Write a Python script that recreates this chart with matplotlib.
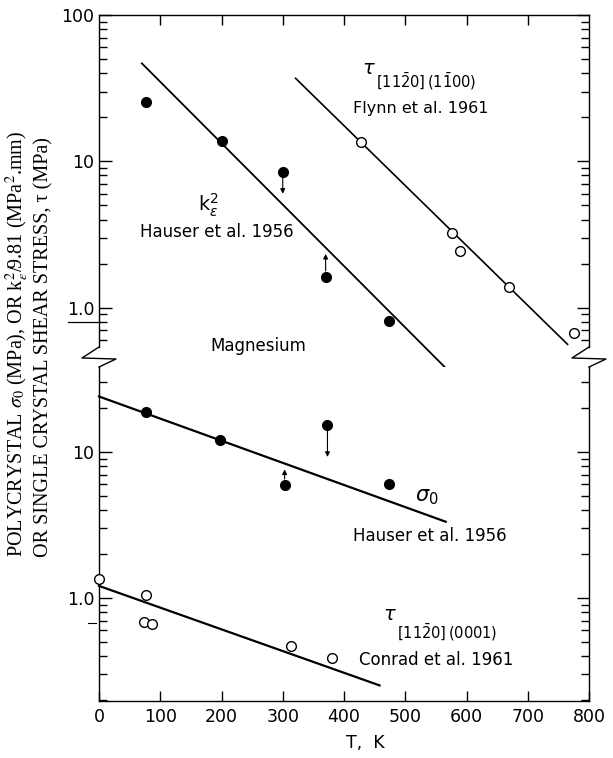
import matplotlib
matplotlib.use("Agg")
import matplotlib.pyplot as plt
from matplotlib.lines import Line2D
from matplotlib.ticker import FixedLocator, FixedFormatter, LogLocator, NullFormatter

# --- data (T in K, values in MPa) ---
k_T = [77, 200, 300, 370, 473]
k_val = [25.3, 13.8, 8.5, 1.63, 0.81]
k_arrow_idx = [2, 3]
k_arrow_to = [6.0, 2.33]
k_fit_T = [70, 579]
k_fit_val = [46.7, 0.341]

flynn_T = [427, 576, 589, 670, 776]
flynn_val = [13.6, 3.22, 2.45, 1.39, 0.668]
flynn_fit_T = [321, 765]
flynn_fit_val = [36.9, 0.561]

sig_T = [77, 198, 303, 373, 474]
sig_val = [18.7, 12.0, 5.98, 15.2, 6.08]
sig_arrow_idx = [2, 3]
sig_arrow_to = [7.6, 9.25]
sig_fit_T = [0, 566]
sig_fit_val = [24.0, 3.33]

conrad_T = [0, 77, 74, 86, 314, 380]
conrad_val = [1.355, 1.05, 0.69, 0.66, 0.47, 0.39]
conrad_fit_T = [0, 458]
conrad_fit_val = [1.21, 0.252]

x_ticks = [0, 100, 200, 300, 400, 500, 600, 700, 800]

W, H = 613, 758


def fx(x):
    return x / W


def fy(y):
    return 1 - y / H


fig = plt.figure(figsize=(W / 100, H / 100), dpi=100)
ax_top = fig.add_axes([fx(99), fy(347), fx(589) - fx(99), fy(15) - fy(347)])
ax_bot = fig.add_axes([fx(99), fy(701), fx(589) - fx(99), fy(367) - fy(701)])

for ax in (ax_top, ax_bot):
    ax.set_yscale("log")
    ax.set_xlim(0, 800)
    ax.yaxis.set_minor_locator(LogLocator(base=10, subs=range(2, 10)))
    ax.yaxis.set_minor_formatter(NullFormatter())
    ax.tick_params(which="both", direction="in", left=True, right=True, width=1)
    ax.tick_params(axis="y", which="major", length=9)
    ax.tick_params(axis="y", which="minor", length=6)
    ax.tick_params(axis="x", which="major", length=7)
    for s in ax.spines.values():
        s.set_linewidth(1.0)

ax_top.set_ylim(0.538, 100)
ax_top.yaxis.set_major_locator(FixedLocator([1, 10, 100]))
ax_top.yaxis.set_major_formatter(FixedFormatter(["1.0", "10", "100"]))
ax_top.spines["bottom"].set_visible(False)
ax_top.set_xticks(x_ticks[1:-1])
ax_top.tick_params(axis="x", top=True, bottom=False, labelbottom=False, labeltop=False)

ax_bot.set_ylim(0.197, 38.2)
ax_bot.yaxis.set_major_locator(FixedLocator([1, 10]))
ax_bot.yaxis.set_major_formatter(FixedFormatter(["1.0", "10"]))
ax_bot.spines["top"].set_visible(False)
ax_bot.set_xticks(x_ticks)
ax_bot.tick_params(axis="x", top=False, bottom=True, pad=5)

for ax in (ax_top, ax_bot):
    for lab in ax.get_yticklabels() + ax.get_xticklabels():
        lab.set_fontfamily("DejaVu Sans")
        lab.set_fontsize(12.5)

# fitted lines
ax_top.plot(k_fit_T, k_fit_val, color="k", lw=1.3, clip_on=False)
ax_top.plot(flynn_fit_T, flynn_fit_val, color="k", lw=1.2, clip_on=False)
ax_bot.plot(sig_fit_T, sig_fit_val, color="k", lw=1.6, clip_on=False)
ax_bot.plot(conrad_fit_T, conrad_fit_val, color="k", lw=1.6, clip_on=False)

# points
ax_top.plot(k_T, k_val, "o", color="k", ms=7, clip_on=False, zorder=3)
ax_top.plot(flynn_T, flynn_val, "o", mfc="white", mec="k", mew=1.0, ms=7,
            clip_on=False, zorder=3)
ax_bot.plot(sig_T, sig_val, "o", color="k", ms=7, clip_on=False, zorder=3)
ax_bot.plot(conrad_T, conrad_val, "o", mfc="white", mec="k", mew=1.0, ms=7,
            clip_on=False, zorder=3)

arrow_style = dict(arrowstyle="-|>", color="k", lw=0.8, mutation_scale=7,
                   shrinkA=4, shrinkB=0)
for i, to in zip(k_arrow_idx, k_arrow_to):
    ax_top.annotate("", xy=(k_T[i], to), xytext=(k_T[i], k_val[i]),
                    arrowprops=arrow_style)
for i, to in zip(sig_arrow_idx, sig_arrow_to):
    ax_bot.annotate("", xy=(sig_T[i], to), xytext=(sig_T[i], sig_val[i]),
                    arrowprops=arrow_style)

# axis break marks
for x0 in (99, 589):
    zig_x = [x0, x0 - 17, x0 + 17, x0]
    zig_y = [347, 358, 359, 367]
    fig.add_artist(Line2D([fx(v) for v in zig_x], [fy(v) for v in zig_y],
                          transform=fig.transFigure, color="k", lw=1.0))

# stray outside tick marks present in the scanned original
fig.add_artist(Line2D([fx(68), fx(99)], [fy(322), fy(322)],
                      transform=fig.transFigure, color="k", lw=0.9))
fig.add_artist(Line2D([fx(88), fx(96)], [fy(623), fy(623)],
                      transform=fig.transFigure, color="k", lw=0.8))

# annotations
txt = dict(family="DejaVu Sans", color="k")
fig.text(fx(369), fy(68), r"$\tau$", fontsize=14, ha="center", va="center", **txt)
fig.text(fx(376), fy(81), r"$[11\bar{2}0]\,(1\bar{1}00)$", fontsize=10.5,
         ha="left", va="center", **txt)
fig.text(fx(421), fy(108), "Flynn et al. 1961", fontsize=11.5, ha="center",
         va="center", **txt)
fig.text(fx(208), fy(205), r"$\mathrm{k}_\epsilon^2$", fontsize=14, ha="center",
         va="center", **txt)
fig.text(fx(217), fy(232), "Hauser et al. 1956", fontsize=12, ha="center",
         va="center", **txt)
fig.text(fx(258), fy(346), "Magnesium", fontsize=12, ha="center", va="center", **txt)
fig.text(fx(427), fy(497), r"$\sigma_0$", fontsize=15, ha="center", va="center", **txt)
fig.text(fx(430), fy(536), "Hauser et al. 1956", fontsize=12, ha="center",
         va="center", **txt)
fig.text(fx(390), fy(615), r"$\tau$", fontsize=14, ha="center", va="center", **txt)
fig.text(fx(397), fy(632), r"$[11\bar{2}0]\,(0001)$", fontsize=10.5,
         ha="left", va="center", **txt)
fig.text(fx(436), fy(660), "Conrad et al. 1961", fontsize=12, ha="center",
         va="center", **txt)

# axis labels
fig.text(fx(365), fy(743), "T,  K", fontsize=12.5, ha="center", va="center", **txt)
ylab = dict(family=["Liberation Serif", "DejaVu Serif"], fontsize=14.5,
            rotation=90, ha="center", va="bottom", math_fontfamily="stix")
fig.text(fx(17), fy(557),
         r"POLYCRYSTAL $\sigma_0$ (MPa), OR k$_\varepsilon^2$/9.81 (MPa$^2$.mm)", **ylab)
fig.text(fx(44), fy(557), "OR SINGLE CRYSTAL SHEAR STRESS, τ (MPa)", **ylab)

fig.savefig("out.png", dpi=100)
